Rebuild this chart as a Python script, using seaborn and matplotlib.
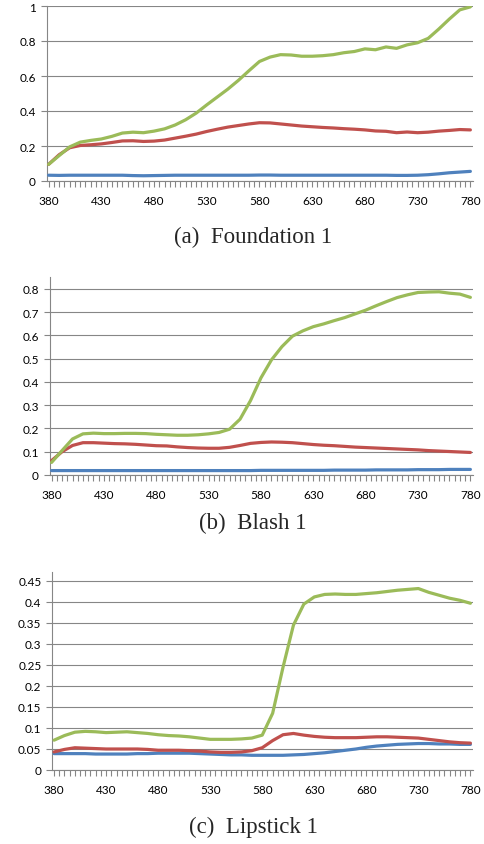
import numpy as np
import pandas as pd
import matplotlib
matplotlib.use("Agg")
import matplotlib.pyplot as plt
import seaborn as sns
from matplotlib.ticker import MultipleLocator, FuncFormatter

# ---------------- data ----------------
wavelength = list(range(380, 781, 10))

found_green = [0.095, 0.145, 0.195, 0.222, 0.232, 0.240, 0.255, 0.274, 0.279, 0.276,
               0.285, 0.298, 0.320, 0.350, 0.388, 0.435, 0.480, 0.525, 0.575, 0.630,
               0.683, 0.708, 0.722, 0.720, 0.713, 0.713, 0.716, 0.722, 0.733, 0.740,
               0.755, 0.750, 0.766, 0.758, 0.778, 0.790, 0.815, 0.868, 0.925, 0.978, 0.995]
found_red = [0.095, 0.150, 0.190, 0.203, 0.207, 0.212, 0.220, 0.229, 0.230, 0.226,
             0.228, 0.234, 0.245, 0.256, 0.268, 0.283, 0.296, 0.308, 0.317, 0.326,
             0.333, 0.332, 0.326, 0.320, 0.314, 0.310, 0.306, 0.303, 0.299, 0.296,
             0.292, 0.286, 0.284, 0.276, 0.280, 0.276, 0.279, 0.285, 0.289, 0.294, 0.292]
found_blue = [0.033, 0.032, 0.033, 0.033, 0.033, 0.033, 0.033, 0.033, 0.031, 0.030,
              0.031, 0.032, 0.033, 0.033, 0.033, 0.033, 0.033, 0.033, 0.033, 0.033,
              0.034, 0.034, 0.033, 0.033, 0.033, 0.033, 0.033, 0.033, 0.033, 0.033,
              0.033, 0.033, 0.033, 0.032, 0.032, 0.033, 0.036, 0.041, 0.047, 0.051, 0.055]

blash_green = [0.054, 0.105, 0.155, 0.177, 0.180, 0.178, 0.178, 0.179, 0.179, 0.178,
               0.175, 0.173, 0.171, 0.171, 0.173, 0.177, 0.183, 0.197, 0.240, 0.320,
               0.418, 0.495, 0.552, 0.597, 0.620, 0.638, 0.650, 0.664, 0.677, 0.693,
               0.709, 0.728, 0.746, 0.763, 0.775, 0.785, 0.787, 0.788, 0.782, 0.778, 0.764]
blash_red = [0.062, 0.100, 0.127, 0.139, 0.139, 0.137, 0.135, 0.134, 0.132, 0.129,
             0.126, 0.125, 0.121, 0.118, 0.116, 0.115, 0.115, 0.119, 0.127, 0.136,
             0.140, 0.142, 0.141, 0.139, 0.135, 0.131, 0.128, 0.126, 0.123, 0.120,
             0.118, 0.116, 0.114, 0.112, 0.110, 0.108, 0.105, 0.103, 0.101, 0.099, 0.097]
blash_blue = [0.019, 0.019, 0.019, 0.019, 0.019, 0.019, 0.019, 0.019, 0.019, 0.019,
              0.019, 0.019, 0.019, 0.019, 0.019, 0.019, 0.019, 0.019, 0.019, 0.019,
              0.020, 0.020, 0.020, 0.020, 0.020, 0.020, 0.020, 0.021, 0.021, 0.021,
              0.021, 0.022, 0.022, 0.022, 0.022, 0.023, 0.023, 0.023, 0.024, 0.024, 0.024]

lip_green = [0.071, 0.082, 0.090, 0.092, 0.091, 0.089, 0.090, 0.091, 0.089, 0.087,
             0.084, 0.082, 0.081, 0.079, 0.076, 0.073, 0.073, 0.073, 0.074, 0.076,
             0.083, 0.135, 0.245, 0.345, 0.395, 0.412, 0.418, 0.419, 0.418, 0.418,
             0.420, 0.422, 0.425, 0.428, 0.430, 0.432, 0.423, 0.416, 0.409, 0.404, 0.397]
lip_red = [0.043, 0.049, 0.053, 0.052, 0.051, 0.050, 0.050, 0.050, 0.050, 0.049,
           0.047, 0.047, 0.047, 0.046, 0.045, 0.043, 0.042, 0.042, 0.043, 0.046,
           0.053, 0.070, 0.084, 0.087, 0.083, 0.080, 0.078, 0.077, 0.077, 0.077,
           0.078, 0.079, 0.079, 0.078, 0.077, 0.076, 0.073, 0.070, 0.067, 0.065, 0.064]
lip_blue = [0.039, 0.039, 0.039, 0.039, 0.038, 0.038, 0.038, 0.038, 0.039, 0.039,
            0.040, 0.040, 0.040, 0.040, 0.039, 0.038, 0.037, 0.036, 0.036, 0.035,
            0.035, 0.035, 0.035, 0.036, 0.037, 0.039, 0.041, 0.044, 0.047, 0.050,
            0.054, 0.057, 0.059, 0.061, 0.062, 0.063, 0.063, 0.062, 0.062, 0.061, 0.061]

captions = ["(a)  Foundation 1", "(b)  Blash 1", "(c)  Lipstick 1"]
x_tick_labels = [380, 430, 480, 530, 580, 630, 680, 730, 780]

# ---------------- style ----------------
sns.set_theme(style="white")
plt.rcParams['font.family'] = ['Lato', 'DejaVu Sans']

BLUE, RED, GREEN = "#4F81BD", "#C0504D", "#9BBB59"
GRAY = "#868686"

fig = plt.figure(figsize=(4.85, 8.45), dpi=100)
W, H = 485.0, 845.0

panels = [
    # (left px, bottom px, top px, ymax, ystep, series)
    (47.0, 182.0, 7.0, 1.0, 0.2, (found_blue, found_red, found_green)),
    (50.0, 476.0, 278.0, 0.8516, 0.1, (blash_blue, blash_red, blash_green)),
    (52.5, 771.0, 573.0, 0.4714, 0.05, (lip_blue, lip_red, lip_green)),
]
caption_y = [237.0, 523.0, 827.0]
right_px = 473.0

for (lpx, bpx, tpx, ymax, ystep, series), cap, cy in zip(panels, captions, caption_y):
    ax = fig.add_axes([lpx / W, 1 - bpx / H, (right_px - lpx) / W, (bpx - tpx) / H])
    df = pd.DataFrame({"wavelength": wavelength,
                       "blue": series[0], "red": series[1], "green": series[2]})
    for col, c in (("blue", BLUE), ("red", RED), ("green", GREEN)):
        sns.lineplot(data=df, x="wavelength", y=col, ax=ax, color=c,
                     linewidth=2.3, estimator=None, legend=False, zorder=3)
    ax.set_xlim(378.5, 782.5)
    ax.set_ylim(0, ymax)
    ax.set_xticks(x_tick_labels)
    ax.xaxis.set_minor_locator(MultipleLocator(5))
    ax.yaxis.set_major_locator(MultipleLocator(ystep))
    ax.yaxis.set_major_formatter(FuncFormatter(lambda v, p: f"{round(v, 3):g}"))
    ax.set_xlabel("")
    ax.set_ylabel("")
    ax.grid(axis="y", color=GRAY, linewidth=0.8, zorder=0)
    ax.grid(axis="x", visible=False)
    for s in ("top", "right"):
        ax.spines[s].set_visible(False)
    for s in ("left", "bottom"):
        ax.spines[s].set_color(GRAY)
        ax.spines[s].set_linewidth(0.8)
    ax.tick_params(axis="x", which="both", direction="out", length=4, width=0.8,
                   color=GRAY, labelsize=8.5, pad=6, labelcolor="black", bottom=True)
    ax.tick_params(axis="y", which="major", direction="out", length=4, width=0.8,
                   color=GRAY, labelsize=8.5, pad=4, labelcolor="black", left=True)
    fig.text(253.0 / W, 1 - cy / H, cap, ha="center", va="center",
             fontsize=16.5, family=["Liberation Serif", "DejaVu Serif"])

fig.savefig("out.png", dpi=100)
